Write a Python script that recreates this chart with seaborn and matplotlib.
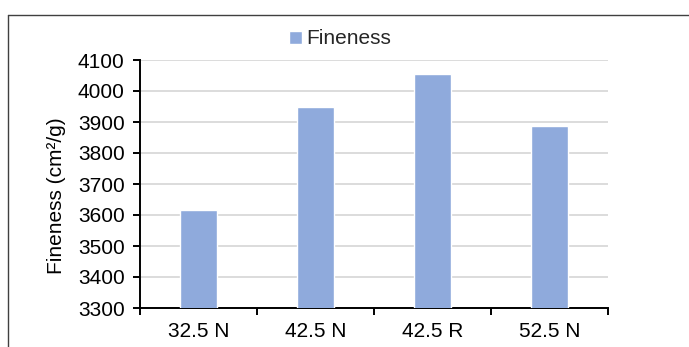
import matplotlib
matplotlib.use("Agg")
import matplotlib.pyplot as plt
from matplotlib.lines import Line2D
from matplotlib.ticker import FixedLocator, MultipleLocator
import seaborn as sns
import pandas as pd

# Cement classes and measured Blaine fineness
categories = ["32.5 N", "42.5 N", "42.5 R", "52.5 N"]
fineness = [3615, 3948, 4054, 3888]
series_name = "Fineness"

sns.set_theme(style="white")
plt.rcParams["font.family"] = ["Liberation Sans", "DejaVu Sans"]

FS = 15
W, H = 689, 347
fig = plt.figure(figsize=(W / 100, H / 100), dpi=100)
ax = fig.add_axes([140 / W, 1 - 308 / H, (608 - 140) / W, (308 - 60) / H])

df = pd.DataFrame({"Cement": categories, series_name: fineness})
sns.barplot(data=df, x="Cement", y=series_name, color="#8faadc", saturation=1,
            width=0.31, ax=ax, label=series_name, zorder=3)

ax.set_ylim(3300, 4100)
ax.set_xlim(-0.5, len(categories) - 0.5)
ax.yaxis.set_major_locator(MultipleLocator(100))
ax.grid(axis="y", color="#d9d9d9", linewidth=1.3, zorder=0)
ax.set_axisbelow(True)

for side in ("top", "right"):
    ax.spines[side].set_visible(False)
for side in ("left", "bottom"):
    ax.spines[side].set_color("black")
    ax.spines[side].set_linewidth(1.4)

# category labels centred, tick marks on category boundaries
ax.xaxis.set_minor_locator(FixedLocator([i - 0.5 for i in range(len(categories) + 1)]))
ax.tick_params(axis="x", which="major", length=0, pad=10, labelsize=FS, colors="black")
ax.tick_params(axis="x", which="minor", bottom=True, length=5, width=1.4, color="black", direction="out")
ax.tick_params(axis="y", which="major", left=True, length=5, width=1.4, color="black",
               direction="out", pad=6, labelsize=FS, labelcolor="black")

ax.set_xlabel("")
ax.set_ylabel("Fineness (cm²/g)", fontsize=FS, color="black")
ax.yaxis.set_label_coords(-(140 - 66) / (608 - 140), (308 - 196) / (308 - 60))

ax.legend(loc="center left", bbox_to_anchor=(289 / W, 1 - 39 / H),
          bbox_transform=fig.transFigure, frameon=False, fontsize=FS,
          handlelength=0.6, handleheight=0.6, handletextpad=0.25,
          borderpad=0, borderaxespad=0)

# outer chart frame (top and left edges)
frame_color = "#404040"
fig.add_artist(Line2D([8 / W, 1], [1 - 15 / H, 1 - 15 / H], transform=fig.transFigure,
                      color=frame_color, linewidth=1))
fig.add_artist(Line2D([8 / W, 8 / W], [0, 1 - 15 / H], transform=fig.transFigure,
                      color=frame_color, linewidth=1))

fig.savefig("out.png", dpi=100)
